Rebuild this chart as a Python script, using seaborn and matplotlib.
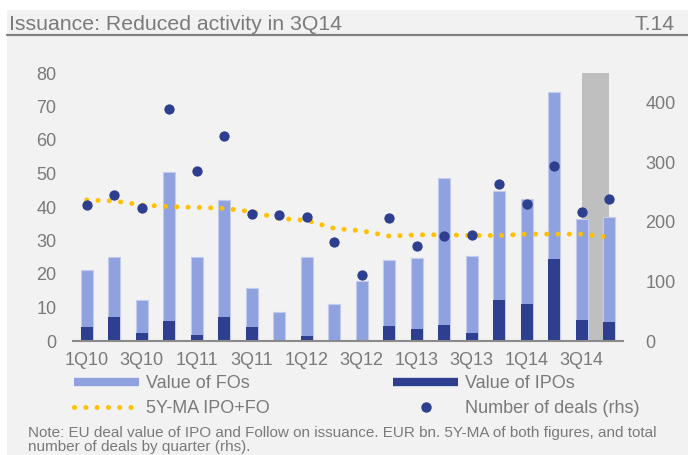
import numpy as np
import pandas as pd
import matplotlib
matplotlib.use("Agg")
import matplotlib.pyplot as plt
from matplotlib.lines import Line2D
from matplotlib.patches import Rectangle
import seaborn as sns

# ---------------- data ----------------
quarters = ["1Q10", "2Q10", "3Q10", "4Q10", "1Q11", "2Q11", "3Q11", "4Q11",
            "1Q12", "2Q12", "3Q12", "4Q12", "1Q13", "2Q13", "3Q13", "4Q13",
            "1Q14", "2Q14", "3Q14", "4Q14"]
tick_labels = ["1Q10", "3Q10", "1Q11", "3Q11", "1Q12", "3Q12", "1Q13", "3Q13", "1Q14", "3Q14"]
value_ipo = [4.3, 7.3, 2.3, 6.0, 1.8, 7.3, 4.3, 0.1, 1.5, 0.3,
             0.3, 4.6, 3.7, 4.8, 2.5, 12.3, 11.0, 24.4, 6.3, 5.8]
value_fo = [16.9, 17.9, 9.9, 44.5, 23.4, 34.8, 11.4, 8.7, 23.7, 10.6,
            17.7, 19.6, 21.0, 44.0, 22.8, 32.5, 31.3, 50.0, 30.2, 31.2]
ma5y = [42.1, 41.8, 40.6, 40.1, 39.9, 39.6, 38.6, 36.6, 36.0, 33.6,
        32.9, 31.3, 31.7, 31.7, 31.5, 31.5, 31.9, 31.9, 31.9, 31.0]
deals = [228, 245, 224, 389, 285, 345, 213, 212, 208, 167,
         110, 206, 159, 176, 178, 263, 230, 294, 216, 238]
highlight_start, highlight_end = "3Q14", "4Q14"

# ---------------- style ----------------
BG = "#F2F2F2"
LIGHT = "#8FA1DF"
LIGHT_EDGE = "#C3CCEF"
DARK = "#2D3F8E"
YELLOW = "#FFC000"
GRAYBAND = "#BFBFBF"
TXT = "#7A7A7A"

sns.set_theme(style="white")
plt.rcParams["font.family"] = ["Liberation Sans", "DejaVu Sans"]

df = pd.DataFrame({
    "quarter": quarters,
    "pos": np.arange(len(quarters)),
    "ipo": value_ipo,
    "fo": value_fo,
    "ma": ma5y,
    "deals": deals,
})
df["total"] = df["ipo"] + df["fo"]

W, H = 688, 455
fig = plt.figure(figsize=(W / 100, H / 100), dpi=100)
fig.patch.set_facecolor("white")
bg = Rectangle((7 / W, 0), 1 - 7 / W, 1 - 10 / H, transform=fig.transFigure,
               facecolor=BG, edgecolor="none", zorder=-10)
fig.patches.append(bg)

ax = fig.add_axes([73 / W, 1 - 341 / H, 550 / W, 268 / H])
ax.set_zorder(1)
ax.patch.set_alpha(0)

# highlight band
ax.axvspan(quarters.index(highlight_start), quarters.index(highlight_end),
           color=GRAYBAND, zorder=0, lw=0)

sns.barplot(data=df, x="pos", y="total", native_scale=True, color=LIGHT,
            saturation=1, width=0.42, ax=ax, zorder=2, linewidth=0.8,
            edgecolor=LIGHT_EDGE)
sns.barplot(data=df, x="pos", y="ipo", native_scale=True, color=DARK,
            saturation=1, width=0.42, ax=ax, zorder=3, linewidth=0)
sns.lineplot(data=df, x="pos", y="ma", ax=ax, color=YELLOW, lw=3.6,
             linestyle=(0, (0.01, 2.25)), dash_capstyle="round", zorder=4)

ax.set_xlim(-0.5, 19.5)
ax.set_ylim(0, 80)
ax.set_yticks(np.arange(0, 81, 10))
ax.set_xticks([quarters.index(t) for t in tick_labels])
ax.set_xticklabels(tick_labels)
ax.set_xlabel("")
ax.set_ylabel("")
for s in ["top", "right", "left"]:
    ax.spines[s].set_visible(False)
ax.spines["bottom"].set_color("#8A8A8A")
ax.spines["bottom"].set_linewidth(1.5)
ax.spines["bottom"].set_zorder(5)
ax.tick_params(axis="y", length=0, pad=12, labelsize=13, labelcolor=TXT)
ax.tick_params(axis="x", length=0, pad=8, labelsize=13, labelcolor=TXT)

ax2 = ax.twinx()
ax2.set_zorder(2)
ax2.patch.set_alpha(0)
sns.scatterplot(data=df, x="pos", y="deals", ax=ax2, color=DARK, s=55,
                linewidth=0, zorder=5)
ax2.set_ylim(0, 450)
ax2.set_yticks(np.arange(0, 401, 100))
ax2.set_ylabel("")
for s in ["top", "right", "left", "bottom"]:
    ax2.spines[s].set_visible(False)
ax2.tick_params(axis="y", length=0, pad=16, labelsize=13, labelcolor=TXT)
ax2.set_xlim(-0.5, 19.5)

# legends
h_fo = Line2D([], [], color=LIGHT, lw=6, solid_capstyle="butt")
h_ma = Line2D([], [], color=YELLOW, lw=3.6, linestyle=(0, (0.01, 2.25)), dash_capstyle="round")
h_ipo = Line2D([], [], color=DARK, lw=6, solid_capstyle="butt")
h_deals = Line2D([], [], color=DARK, lw=0, marker="o", markersize=7.5, markeredgewidth=0)

common = dict(frameon=False, loc="upper left", borderpad=0, borderaxespad=0,
              handlelength=3.6, handletextpad=0.4, labelspacing=0.45,
              prop={"size": 13}, labelcolor=TXT)
leg1 = fig.legend([h_fo, h_ma], ["Value of FOs", "5Y-MA IPO+FO"],
                  bbox_to_anchor=(74 / W, 1 - 375 / H), **common)
leg2 = fig.legend([h_ipo, h_deals], ["Value of IPOs", "Number of deals (rhs)"],
                  bbox_to_anchor=(393 / W, 1 - 375 / H), **common)

# title bar
fig.text(9 / W, 1 - 30 / H, "Issuance: Reduced activity in 3Q14", fontsize=15.3,
         color=TXT, va="baseline", ha="left")
fig.text(675 / W, 1 - 30 / H, "T.14", fontsize=15.3, color=TXT, va="baseline", ha="right")
fig.add_artist(Line2D([7 / W, 1], [1 - 35 / H, 1 - 35 / H], transform=fig.transFigure,
                      color="#808080", lw=1.6))

# note
fig.text(28 / W, 1 - 437 / H,
         "Note: EU deal value of IPO and Follow on issuance. EUR bn. 5Y-MA of both figures, and total",
         fontsize=11, color=TXT, va="baseline", ha="left")
fig.text(28 / W, 1 - 451 / H, "number of deals by quarter (rhs).",
         fontsize=11, color=TXT, va="baseline", ha="left")

fig.savefig("out.png", dpi=100, facecolor=fig.get_facecolor())
